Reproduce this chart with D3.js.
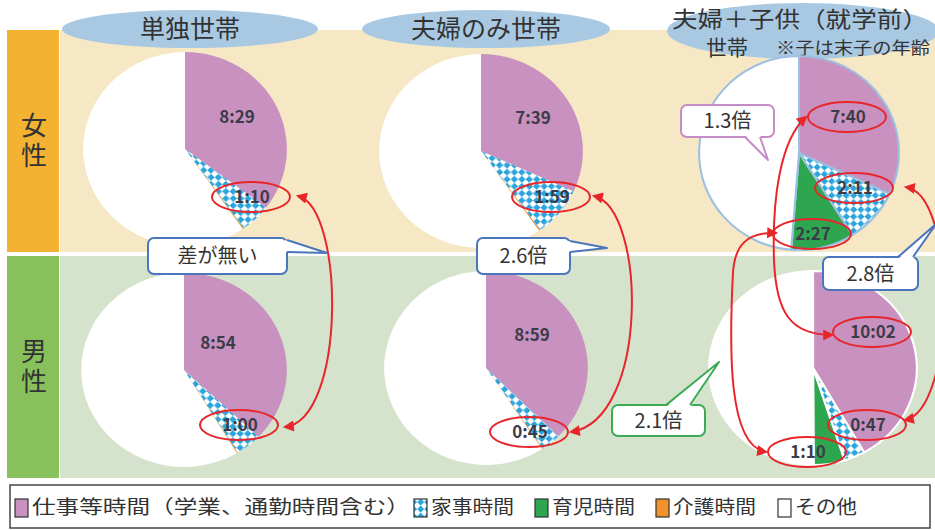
<!DOCTYPE html>
<html>
<head>
<meta charset="utf-8">
<script src="https://cdn.jsdelivr.net/npm/d3@7"></script>
<style>
  body { margin: 0; background: #fff; }
  text { font-family: "Noto Sans CJK JP", "Noto Sans", sans-serif; }
</style>
</head>
<body>
<div id="chart"></div>
<script>
// categories and households
var categories = ['仕事等時間（学業、通勤時間含む）', '家事時間', '育児時間', '介護時間', 'その他'];
var households = ['単独世帯', '夫婦のみ世帯', '夫婦＋子供（就学前）'];
var sexes = ['女性', '男性'];

// minutes per day, one entry per household
var femaleWork      = [509, 459, 460];
var femaleHousework = [70, 119, 131];
var femaleChildcare = [1, 0, 147];
var femaleCare      = [2, 3, 0];
var maleWork        = [534, 539, 602];
var maleHousework   = [60, 45, 47];
var maleChildcare   = [0, 0, 70];
var maleCare        = [2, 2, 0];

var DAY = 1440;
var colors = ['#c891c0', 'url(#checker)', '#2ea64f', '#f2922a', '#ffffff'];

function slices(work, house, child, care, i) {
  var v = [work[i], house[i], child[i], care[i]];
  v.push(DAY - d3.sum(v));
  return v;
}
function hm(m) { return Math.floor(m / 60) + ':' + d3.format('02d')(m % 60); }

var width = 935, height = 530;
var svg = d3.select('#chart').append('svg')
    .attr('width', width).attr('height', height);

var defs = svg.append('defs');
var pat = defs.append('pattern').attr('id', 'checker')
    .attr('width', 10).attr('height', 10)
    .attr('patternUnits', 'userSpaceOnUse')
    .attr('patternTransform', 'rotate(45)');
pat.append('rect').attr('width', 10).attr('height', 10).attr('fill', '#2ba5dc');
pat.append('rect').attr('width', 5).attr('height', 5).attr('fill', '#fff');
pat.append('rect').attr('x', 5).attr('y', 5).attr('width', 5).attr('height', 5).attr('fill', '#fff');

defs.append('marker').attr('id', 'arrow')
    .attr('viewBox', '0 0 10 10').attr('refX', 8).attr('refY', 5)
    .attr('markerWidth', 13).attr('markerHeight', 11)
    .attr('markerUnits', 'userSpaceOnUse')
    .attr('orient', 'auto-start-reverse')
  .append('path').attr('d', 'M0,0L10,5L0,10Z').attr('fill', '#e8262a');

// row bands
var rows = [{ y: 30, h: 222, bg: '#f6e7c5', side: '#f4b232' },
            { y: 256, h: 222, bg: '#d5e3cc', side: '#88c15c' }];
rows.forEach(function(r, i) {
  svg.append('rect').attr('x', 60).attr('y', r.y).attr('width', width - 60).attr('height', r.h).attr('fill', r.bg);
  svg.append('rect').attr('x', 7).attr('y', r.y).attr('width', 52).attr('height', r.h).attr('fill', r.side);
  svg.append('text').attr('x', 34).attr('y', r.y + 112)
    .attr('text-anchor', 'middle').attr('font-size', 26).attr('fill', '#333')
    .style('writing-mode', 'vertical-rl').attr('letter-spacing', 4)
    .text(sexes[i]);
});

// header ellipses
var heads = [{ cx: 190, cy: 29, rx: 128, ry: 19 },
             { cx: 486, cy: 29, rx: 124, ry: 19 },
             { cx: 803, cy: 31, rx: 136, ry: 28 }];
heads.forEach(function(h, i) {
  svg.append('ellipse').attr('cx', h.cx).attr('cy', h.cy).attr('rx', h.rx).attr('ry', h.ry).attr('fill', '#a9c9e3');
  if (i < 2) {
    svg.append('text').attr('x', h.cx).attr('y', h.cy + 9).attr('text-anchor', 'middle')
      .attr('font-size', 25).attr('fill', '#333').text(households[i]);
  }
});
svg.append('text').attr('x', 672).attr('y', 27)
  .attr('font-size', 22).attr('fill', '#333')
  .attr('textLength', 256).attr('lengthAdjust', 'spacingAndGlyphs').text(households[2]);
svg.append('text').attr('x', 727).attr('y', 55).attr('text-anchor', 'middle')
  .attr('font-size', 21).attr('fill', '#333').text('世帯');
svg.append('text').attr('x', 776).attr('y', 54)
  .attr('font-size', 17).attr('fill', '#333')
  .attr('textLength', 154).attr('lengthAdjust', 'spacingAndGlyphs').text('※子は末子の年齢');

// pies
var pie = d3.pie().sort(null).value(function(d) { return d; });
var arc = d3.arc().innerRadius(0).outerRadius(97);

var layout = [
  { cx: 185, cy: 149, sx: 1.05, stroke: 'none' },
  { cx: 481, cy: 151, sx: 1.05, stroke: 'none' },
  { cx: 799, cy: 153, sx: 1.03, stroke: '#9cc0e2' },
  { cx: 184, cy: 370, sx: 1.06, stroke: 'none' },
  { cx: 486, cy: 368, sx: 1.05, stroke: 'none' },
  { cx: 813, cy: 368, sx: 1.07, stroke: '#fff' }
];

var pieData = [];
for (var i = 0; i < 3; i++) pieData.push(slices(femaleWork, femaleHousework, femaleChildcare, femaleCare, i));
for (var i = 0; i < 3; i++) pieData.push(slices(maleWork, maleHousework, maleChildcare, maleCare, i));

pieData.forEach(function(vals, k) {
  var L = layout[k];
  var g = svg.append('g').attr('transform', 'translate(' + L.cx + ',' + L.cy + ') scale(' + L.sx + ',1)');
  g.selectAll('path').data(pie(vals)).enter().append('path')
    .attr('d', arc)
    .attr('fill', function(d, i) { return colors[i]; })
    .attr('stroke', L.stroke)
    .attr('stroke-width', L.stroke === 'none' ? 0 : 2);
});

// value labels: [pie index, slice index, dx, dy, circled]
var labels = [
  [0, 0, 52, -32, false], [0, 1, 67, 48, true],
  [1, 0, 52, -33, false], [1, 1, 71, 46, true],
  [2, 0, 49, -36, true], [2, 1, 56, 35, true], [2, 2, 14, 81, true],
  [3, 0, 34, -27, false], [3, 1, 56, 55, true],
  [4, 0, 46, -33, false], [4, 1, 44, 64, true],
  [5, 0, 60, -36, true], [5, 1, 55, 57, true], [5, 2, -5, 84, true]
];
labels.forEach(function(l) {
  var L = layout[l[0]];
  var x = L.cx + l[2], y = L.cy + l[3];
  svg.append('text').attr('x', x).attr('y', y + 6).attr('text-anchor', 'middle')
    .attr('font-size', 17).attr('font-weight', 'bold').attr('fill', '#3c3c48')
    .text(hm(pieData[l[0]][l[1]]));
  if (l[4]) {
    svg.append('ellipse').attr('cx', x - 1).attr('cy', y).attr('rx', 39).attr('ry', 15)
      .attr('fill', 'none').attr('stroke', '#e8262a').attr('stroke-width', 2);
  }
});

// red comparison arrows
var arrows = [
  'M298,196C345,208 346,420 285,427',
  'M594,196C646,208 650,420 571,432',
  'M906,187C958,195 956,410 905,420',
  'M806,117C780,140 772,200 774,260C776,312 790,335 832,335',
  'M776,233C746,232 735,246 733,272C729,350 728,446 766,452'
];
svg.selectAll('.arrow').data(arrows).enter().append('path')
  .attr('class', 'arrow')
  .attr('d', function(d) { return d; })
  .attr('fill', 'none').attr('stroke', '#e8262a').attr('stroke-width', 2)
  .attr('marker-start', 'url(#arrow)').attr('marker-end', 'url(#arrow)');

// ratio callouts
function ratio(a, b) {
  var r = a / b;
  return r < 1.2 ? '差が無い' : d3.format('.1f')(r) + '倍';
}
var callouts = [
  { x: 148, y: 238, w: 139, h: 36, col: '#4a77bb', side: 'right', a: 240, b: 252, tip: [327, 253],
    text: ratio(femaleHousework[0], maleHousework[0]) },
  { x: 477, y: 238, w: 93, h: 36, col: '#4a77bb', side: 'right', a: 241, b: 252, tip: [607, 248],
    text: ratio(femaleHousework[1], maleHousework[1]) },
  { x: 823, y: 257, w: 95, h: 33, col: '#4a77bb', side: 'top', a: 898, b: 913, tip: [936, 224],
    text: ratio(femaleHousework[2], maleHousework[2]) },
  { x: 612, y: 405, w: 93, h: 31, col: '#3dab55', side: 'top', a: 666, b: 690, tip: [719, 362],
    text: ratio(femaleChildcare[2], maleChildcare[2]) },
  { x: 681, y: 105, w: 93, h: 32, col: '#c58dc6', side: 'bottom', a: 745, b: 760, tip: [768, 160],
    text: ratio(maleWork[2], femaleWork[2]) }
];
callouts.forEach(function(c) {
  var p1, p2, q1, q2;
  if (c.side === 'right') { p1 = [c.x + c.w, c.a]; p2 = [c.x + c.w, c.b]; q1 = [p1[0] - 2, c.a]; q2 = [p2[0] - 2, c.b]; }
  if (c.side === 'top') { p1 = [c.a, c.y]; p2 = [c.b, c.y]; q1 = [c.a, c.y + 2]; q2 = [c.b, c.y + 2]; }
  if (c.side === 'bottom') { p1 = [c.a, c.y + c.h]; p2 = [c.b, c.y + c.h]; q1 = [c.a, c.y + c.h - 2]; q2 = [c.b, c.y + c.h - 2]; }
  svg.append('rect').attr('x', c.x).attr('y', c.y).attr('width', c.w).attr('height', c.h)
    .attr('rx', 6).attr('fill', '#fff').attr('stroke', c.col).attr('stroke-width', 2);
  svg.append('path').attr('d', 'M' + [q1, c.tip, q2].join('L') + 'Z').attr('fill', '#fff');
  svg.append('path').attr('d', 'M' + [p1, c.tip, p2].join('L'))
    .attr('fill', 'none').attr('stroke', c.col).attr('stroke-width', 2).attr('stroke-linejoin', 'round');
  svg.append('text').attr('x', c.x + c.w / 2).attr('y', c.y + c.h / 2 + 7).attr('text-anchor', 'middle')
    .attr('font-size', 20).attr('fill', '#333').text(c.text);
});

// legend
svg.append('rect').attr('x', 10).attr('y', 485).attr('width', 920).attr('height', 43)
  .attr('fill', '#fff').attr('stroke', '#444').attr('stroke-width', 1.5);
var legendX = [15, 414, 535, 656, 778];
var legendW = [378, 83, 83, 83, 62];
categories.forEach(function(c, i) {
  svg.append('rect').attr('x', legendX[i]).attr('y', 499).attr('width', 13).attr('height', 18)
    .attr('fill', colors[i]).attr('stroke', '#333').attr('stroke-width', 1.2);
  svg.append('text').attr('x', legendX[i] + 17).attr('y', 514)
    .attr('font-size', 19).attr('fill', '#333')
    .attr('textLength', legendW[i]).attr('lengthAdjust', 'spacingAndGlyphs')
    .text(c);
});
</script>
</body>
</html>
